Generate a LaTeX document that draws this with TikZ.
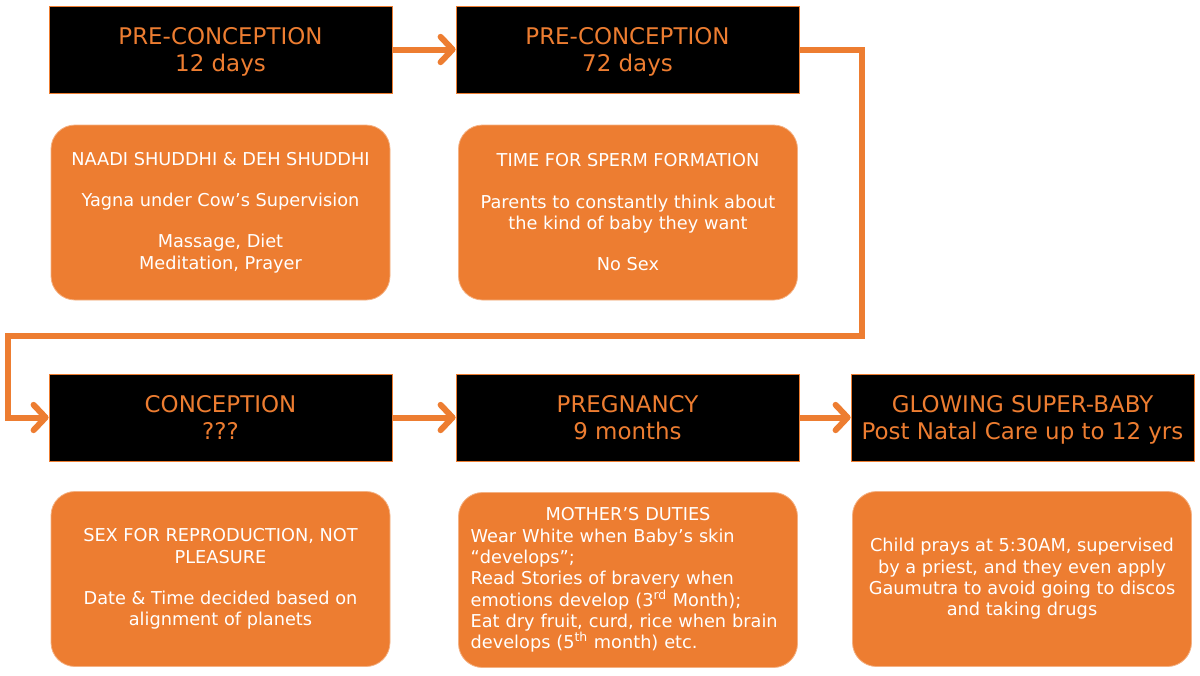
\documentclass[tikz,border=0pt]{standalone}
\usepackage{fontspec}
\setmainfont{DejaVu Sans}
\usetikzlibrary{arrows.meta}
\definecolor{accent}{HTML}{ED7D31}
\definecolor{rim}{HTML}{F4B183}

\begin{document}
\begin{tikzpicture}[x=0.75pt,y=-0.75pt,
    stage/.style={fill=black,draw=accent,line width=0.6pt,text=accent,
        minimum width=257.25pt,minimum height=65.25pt,align=center,text depth=0pt,
        font=\fontsize{17.2}{20.3}\selectfont},
    note/.style={fill=accent,draw=rim,line width=0.6pt,text=white,rounded corners=18pt,
        minimum width=254.25pt,minimum height=131.25pt,align=center,
        font=\fontsize{13.3}{16}\selectfont},
    flow/.style={draw=accent,line width=4.5pt,
        -{Straight Barb[length=9pt,width=19pt,round]}}]
    \useasboundingbox (0,0) rectangle (1200,675);
    % header row one
    \node[stage] (pre12) at (220.5,49.5) {PRE-CONCEPTION\\12 days};
    \node[stage] (pre72) at (627.5,49.5) {PRE-CONCEPTION\\72 days};
    % header row two
    \node[stage] (concep) at (220.5,417.5) {CONCEPTION\\???};
    \node[stage] (preg) at (627.5,417.5) {PREGNANCY\\9 months};
    \node[stage] (baby) at (1022.5,417.5) {GLOWING SUPER-BABY\\Post Natal Care up to 12 yrs};
    % notes
    \node[note] (n12) at (220.5,212.5) {NAADI SHUDDHI \& DEH SHUDDHI\\[15pt]Yagna under Cow’s Supervision\\[15pt]Massage, Diet\\Meditation, Prayer};
    \node[note] (n72) at (628,212.5) {TIME FOR SPERM FORMATION\\[15pt]Parents to constantly think about\\the kind of baby they want\\[15pt]No Sex};
    \node[note] (nconcep) at (220.5,579) {SEX FOR REPRODUCTION, NOT\\PLEASURE\\[15pt]Date \& Time decided based on\\alignment of planets};
    \node[note,text width=236pt,align=left] (npreg) at (628,580) {\makebox[\linewidth]{MOTHER’S DUTIES}\\Wear White when Baby’s skin\\“develops”;\\Read Stories of bravery when\\emotions develop (3\textsuperscript{rd} Month);\\Eat dry fruit, curd, rice when brain\\develops (5\textsuperscript{th} month) etc.};
    \node[note] (nbaby) at (1022,579) {Child prays at 5:30AM, supervised\\by a priest, and they even apply\\Gaumutra to avoid going to discos\\and taking drugs};
    % connectors
    \coordinate (turnR) at (862,336);
    \coordinate (turnL) at (8,336);
    \draw[flow] (pre12) -- (pre72);
    \draw[flow] (pre72.east) -| (turnR) -- (turnL) |- (concep.west);
    \draw[flow] (concep) -- (preg);
    \draw[flow] (preg) -- (baby);
\end{tikzpicture}
\end{document}
